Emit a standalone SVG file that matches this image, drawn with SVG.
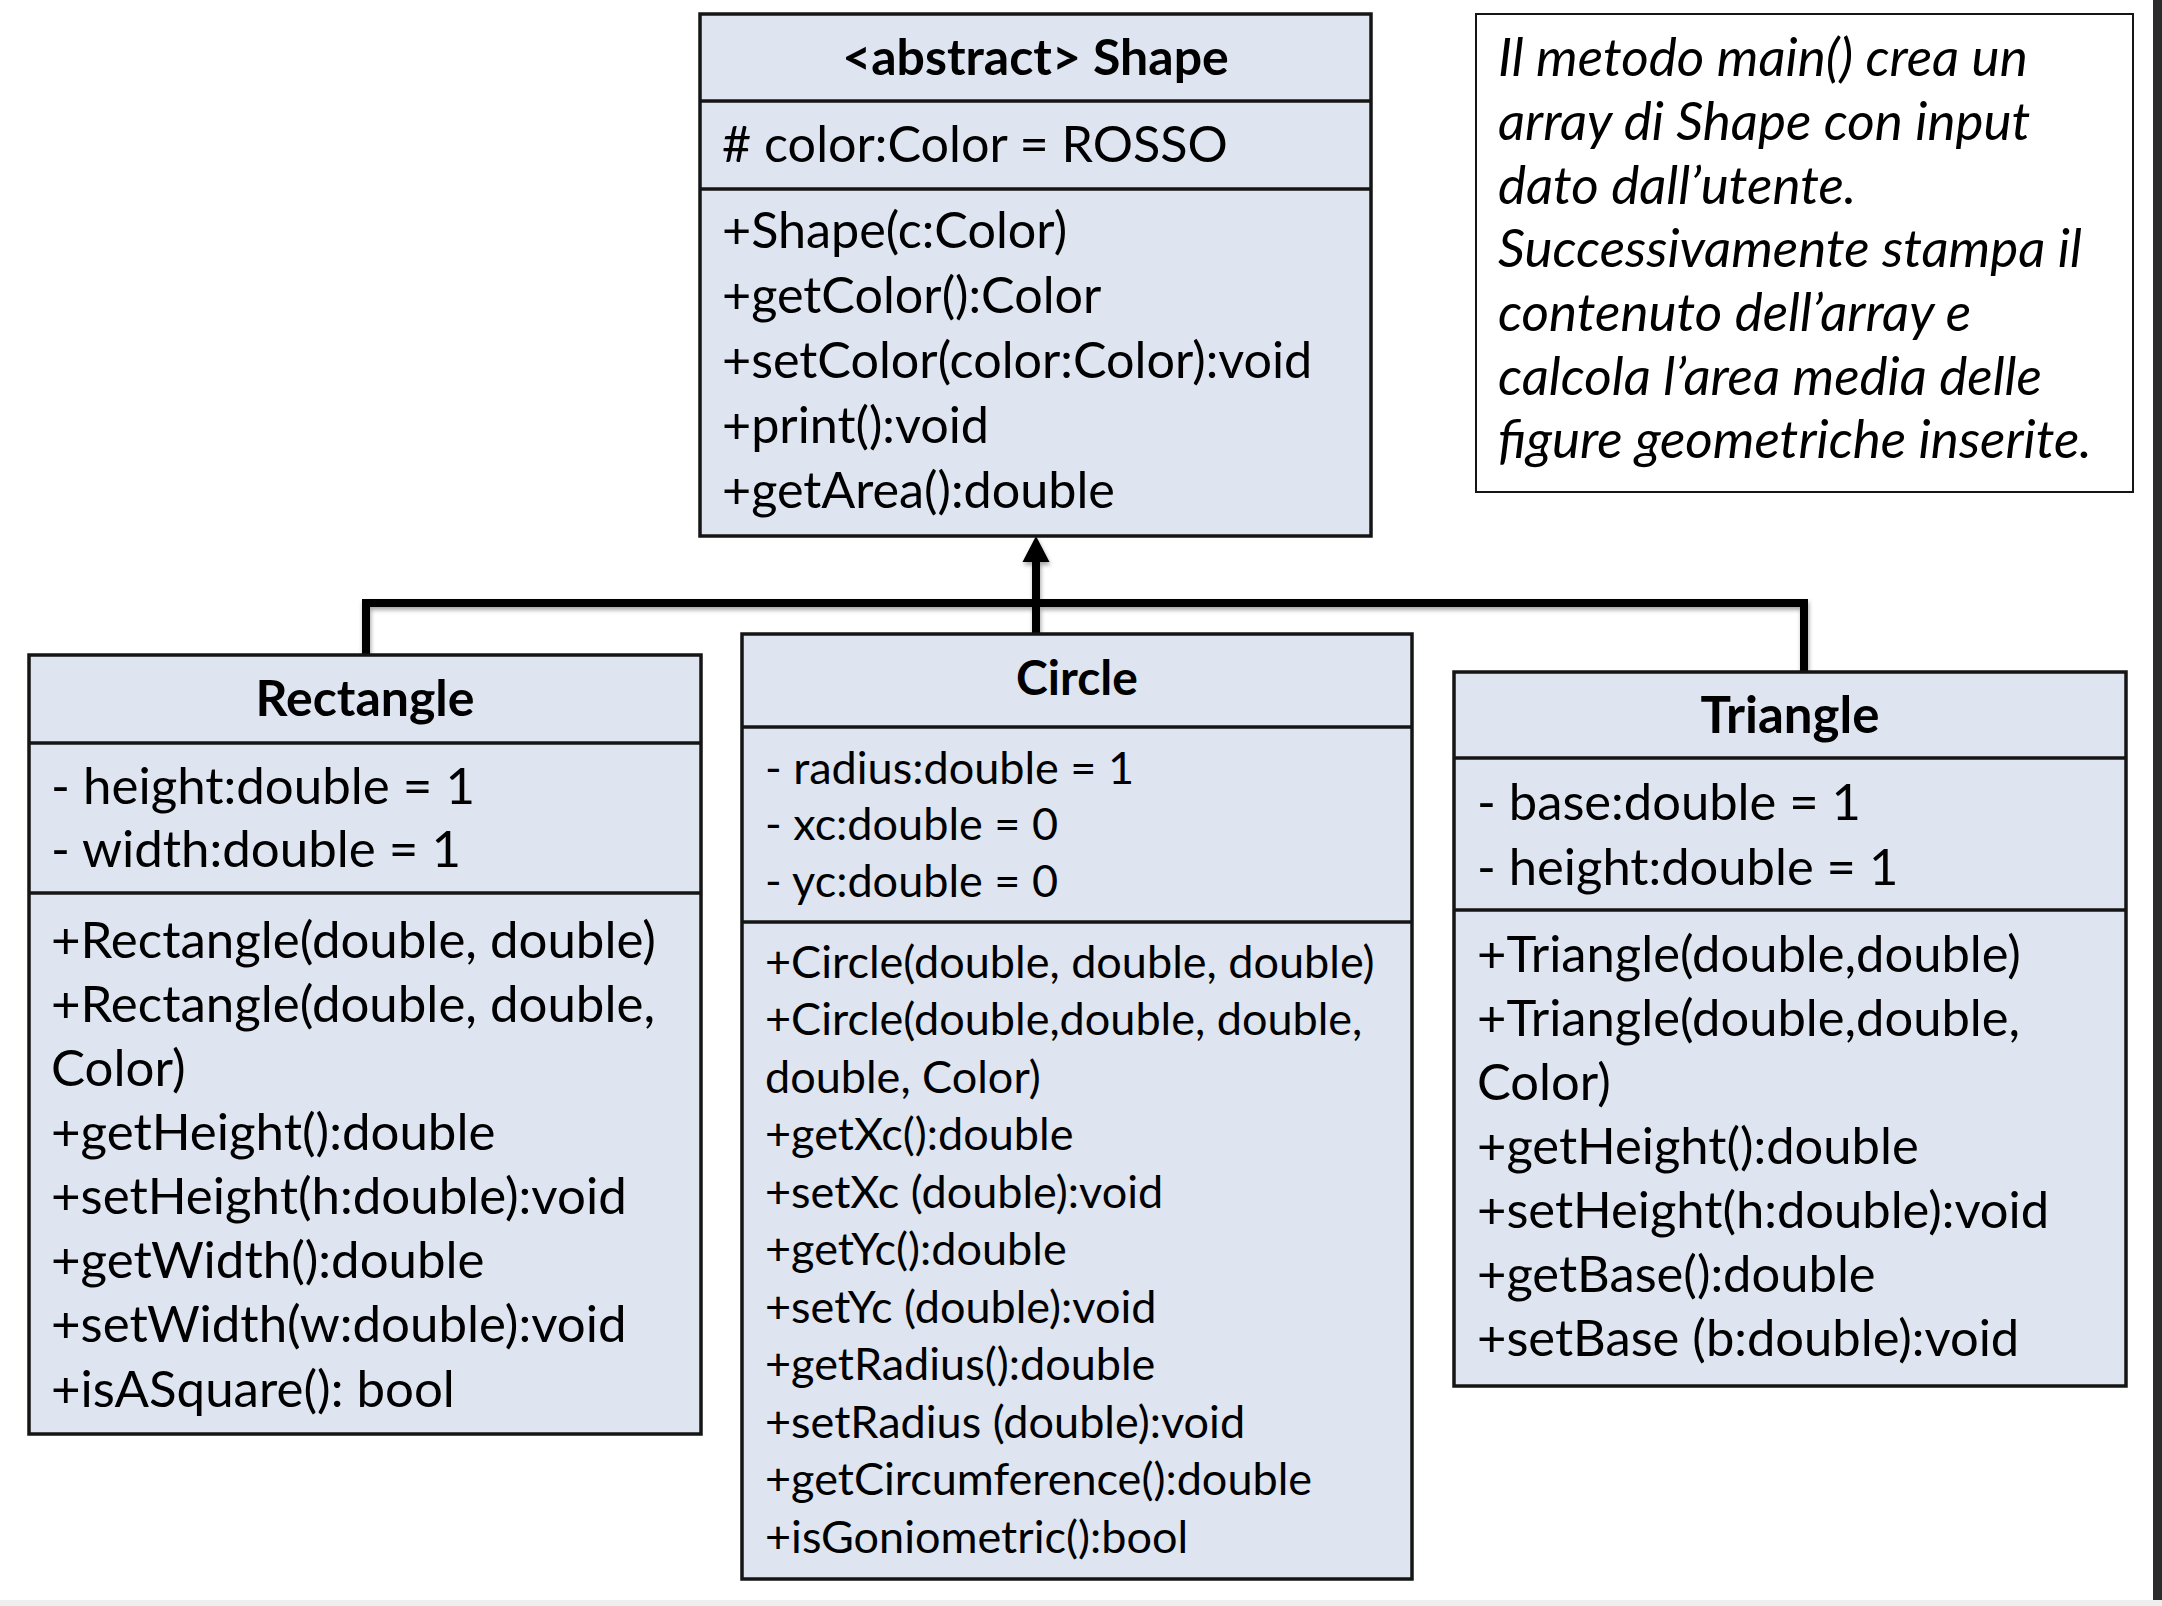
<svg xmlns="http://www.w3.org/2000/svg" width="2162" height="1606" viewBox="0 0 2162 1606">
<defs>
<style>
.box{fill:#dee5f0;stroke:#151515;stroke-width:3.5}
.div{stroke:#151515;stroke-width:3.5}
.t{font-family:Lato,"Liberation Sans",sans-serif;font-size:50.3px;fill:#000}
.r{font-family:Lato,"Liberation Sans",sans-serif;font-size:51px;fill:#000}
.tr{font-family:Lato,"Liberation Sans",sans-serif;font-size:50.7px;fill:#000}
.c{font-family:Lato,"Liberation Sans",sans-serif;font-size:45px;fill:#000}
.h{font-family:Lato,"Liberation Sans",sans-serif;font-size:50px;font-weight:bold;fill:#000;text-anchor:middle}
.n{font-family:Lato,"Liberation Sans",sans-serif;font-size:53px;font-style:italic;fill:#000}
.ln{fill:none;stroke:#000;stroke-width:8;stroke-linecap:butt;stroke-linejoin:miter}
</style>
<filter id="sh" x="-5%" y="-5%" width="110%" height="120%">
<feDropShadow dx="1" dy="3" stdDeviation="2" flood-color="#000" flood-opacity="0.35"/>
</filter>
</defs>
<rect x="0" y="0" width="2162" height="1606" fill="#ffffff"/>
<rect x="0" y="1600" width="2162" height="6" fill="#eeeeee"/>
<rect x="2153" y="0" width="9" height="1600" fill="#2b2b2b"/>

<g id="connectors" filter="url(#sh)">
<path class="ln" d="M366,655 V603 H1808"/>
<path class="ln" d="M1804,603 V672"/>
<path class="ln" d="M1036,560 V634"/>
<polygon points="1036,536 1022.5,562 1049.5,562" fill="#000"/>
</g>

<g id="shape">
<rect class="box" x="700" y="14" width="671" height="522"/>
<line class="div" x1="700" y1="101" x2="1371" y2="101"/>
<line class="div" x1="700" y1="189" x2="1371" y2="189"/>
<text class="h" x="1035.5" y="75">&lt;abstract&gt; Shape</text>
<text class="t" x="722" y="162"># color:Color = ROSSO</text>
<text class="t" x="722" y="248">+Shape(c:Color)</text>
<text class="t" x="722" y="313">+getColor():Color</text>
<text class="t" x="722" y="378">+setColor(color:Color):void</text>
<text class="t" x="722" y="443">+print():void</text>
<text class="t" x="722" y="508">+getArea():double</text>
</g>

<g id="rectangle">
<rect class="box" x="29" y="655" width="672" height="779"/>
<line class="div" x1="29" y1="743" x2="701" y2="743"/>
<line class="div" x1="29" y1="893" x2="701" y2="893"/>
<text class="h" x="365" y="716">Rectangle</text>
<text class="r" x="51" y="804">- height:double = 1</text>
<text class="r" x="51" y="867">- width:double = 1</text>
<text class="r" x="51" y="958">+Rectangle(double, double)</text>
<text class="r" x="51" y="1022">+Rectangle(double, double,</text>
<text class="r" x="51" y="1086">Color)</text>
<text class="r" x="51" y="1150">+getHeight():double</text>
<text class="r" x="51" y="1214">+setHeight(h:double):void</text>
<text class="r" x="51" y="1278">+getWidth():double</text>
<text class="r" x="51" y="1342">+setWidth(w:double):void</text>
<text class="r" x="51" y="1407">+isASquare(): bool</text>
</g>

<g id="circle">
<rect class="box" x="742" y="634" width="670" height="945"/>
<line class="div" x1="742" y1="727" x2="1412" y2="727"/>
<line class="div" x1="742" y1="922" x2="1412" y2="922"/>
<text class="h" x="1077" y="695" style="font-size:48px">Circle</text>
<text class="c" x="765" y="784">- radius:double = 1</text>
<text class="c" x="765" y="840">- xc:double = 0</text>
<text class="c" x="765" y="897">- yc:double = 0</text>
<text class="c" x="765" y="978">+Circle(double, double, double)</text>
<text class="c" x="765" y="1035">+Circle(double,double, double,</text>
<text class="c" x="765" y="1093">double, Color)</text>
<text class="c" x="765" y="1150">+getXc():double</text>
<text class="c" x="765" y="1208">+setXc (double):void</text>
<text class="c" x="765" y="1265">+getYc():double</text>
<text class="c" x="765" y="1323">+setYc (double):void</text>
<text class="c" x="765" y="1380">+getRadius():double</text>
<text class="c" x="765" y="1438">+setRadius (double):void</text>
<text class="c" x="765" y="1495">+getCircumference():double</text>
<text class="c" x="765" y="1553">+isGoniometric():bool</text>
</g>

<g id="triangle">
<rect class="box" x="1454" y="672" width="672" height="714"/>
<line class="div" x1="1454" y1="758" x2="2126" y2="758"/>
<line class="div" x1="1454" y1="910" x2="2126" y2="910"/>
<text class="h" x="1790" y="733" style="font-size:51px">Triangle</text>
<text class="tr" x="1477" y="820">- base:double = 1</text>
<text class="tr" x="1477" y="885">- height:double = 1</text>
<text class="tr" x="1477" y="972">+Triangle(double,double)</text>
<text class="tr" x="1477" y="1036">+Triangle(double,double,</text>
<text class="tr" x="1477" y="1100">Color)</text>
<text class="tr" x="1477" y="1164">+getHeight():double</text>
<text class="tr" x="1477" y="1228">+setHeight(h:double):void</text>
<text class="tr" x="1477" y="1292">+getBase():double</text>
<text class="tr" x="1477" y="1356">+setBase (b:double):void</text>
</g>

<g id="note">
<rect x="1476" y="14" width="657" height="478" fill="#ffffff" stroke="#151515" stroke-width="2"/>
<text class="n" x="1498" y="76">Il metodo main() crea un</text>
<text class="n" x="1498" y="140">array di Shape con input</text>
<text class="n" x="1498" y="204">dato dall’utente.</text>
<text class="n" x="1498" y="267">Successivamente stampa il</text>
<text class="n" x="1498" y="331">contenuto dell’array e</text>
<text class="n" x="1498" y="395">calcola l’area media delle</text>
<text class="n" x="1498" y="458">figure geometriche inserite.</text>
</g>
</svg>
